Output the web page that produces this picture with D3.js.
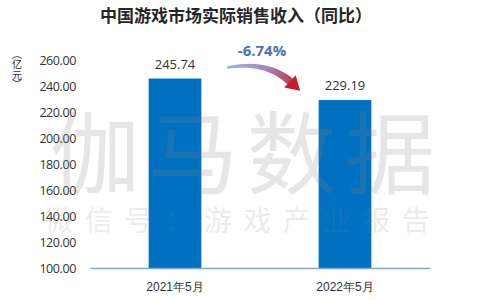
<!DOCTYPE html>
<html>
<head>
<meta charset="utf-8">
<script src="https://cdn.jsdelivr.net/npm/d3@7"></script>
<style>
  body { margin: 0; background: #fff; }
  svg { display: block; font-family: "Noto Sans CJK SC", "Noto Sans", sans-serif; }
</style>
</head>
<body>
<main></main>
<script>
const categories = ["2021年5月", "2022年5月"];
const values = [245.74, 229.19];
const yTicks = [100, 120, 140, 160, 180, 200, 220, 240, 260];
const changeLabel = "-6.74%";
const unitChars = ["︵", "亿", "元", "︶"];

const w = 480, h = 300;

const svg = d3.select("main")
  .append("svg")
  .attr("width", w)
  .attr("height", h)
  .style("background", "#fff");

const xScale = d3.scaleBand()
  .domain(categories)
  .range([90, 430])
  .paddingInner(0.69)
  .paddingOuter(0.345);

const yScale = d3.scaleLinear()
  .domain([100, 260])
  .range([268, 60]);

// title
svg.append("text")
  .attr("x", 236)
  .attr("y", 22)
  .attr("text-anchor", "middle")
  .style("font-size", "17px")
  .style("font-weight", "bold")
  .style("fill", "#262626")
  .text("中国游戏市场实际销售收入（同比）");

// y axis labels (no line)
const yAxis = d3.axisLeft(yScale)
  .tickValues(yTicks)
  .tickFormat(d3.format(".2f"))
  .tickSize(0)
  .tickPadding(0);
const gy = svg.append("g")
  .attr("transform", "translate(76,0)")
  .call(yAxis);
gy.select(".domain").remove();
gy.selectAll("text")
  .style("font-family", "'Open Sans', 'Noto Sans', sans-serif")
  .style("font-size", "12.5px")
  .style("fill", "#333")
  .style("letter-spacing", "-0.4px");

// unit, stacked vertically
const unitY = [53, 63, 74, 83];
svg.selectAll("text.unit")
  .data(unitChars)
  .enter()
  .append("text")
  .attr("class", "unit")
  .attr("x", 17)
  .attr("y", (d, i) => unitY[i])
  .attr("text-anchor", "middle")
  .attr("dominant-baseline", "central")
  .style("font-size", "10px")
  .style("fill", "#333")
  .text(d => d);

// bars
svg.selectAll("rect.bar")
  .data(values)
  .enter()
  .append("rect")
  .attr("class", "bar")
  .attr("x", (d, i) => xScale(categories[i]))
  .attr("y", d => yScale(d))
  .attr("width", xScale.bandwidth())
  .attr("height", d => yScale(100) - yScale(d))
  .attr("fill", "#0070c0");

// value labels
svg.selectAll("text.val")
  .data(values)
  .enter()
  .append("text")
  .attr("class", "val")
  .attr("x", (d, i) => xScale(categories[i]) + xScale.bandwidth() / 2)
  .attr("y", d => yScale(d) - 10)
  .attr("text-anchor", "middle")
  .style("font-family", "'Open Sans', 'Noto Sans', sans-serif")
  .style("font-size", "13px")
  .style("fill", "#333")
  .text(d => d.toFixed(2));

// x axis
const xAxis = d3.axisBottom(xScale).tickSize(0).tickPadding(14);
const gx = svg.append("g")
  .attr("transform", "translate(0," + yScale(100) + ")")
  .call(xAxis);
gx.select(".domain")
  .attr("stroke", "#7faac8")
  .attr("stroke-width", 1.5);
gx.selectAll("text")
  .style("font-size", "12px")
  .style("fill", "#333");

// change arrow: tapered curved shaft + head
const defs = svg.append("defs");
const grad = defs.append("linearGradient")
  .attr("id", "arrowGrad")
  .attr("gradientUnits", "userSpaceOnUse");
grad.append("stop").attr("offset", "0%").attr("stop-color", "#9eb0e2");
grad.append("stop").attr("offset", "50%").attr("stop-color", "#a289b8");
grad.append("stop").attr("offset", "100%").attr("stop-color", "#c81f2c");

const sx = xScale(categories[0]) + xScale.bandwidth() + 26;
const sy = yScale(values[0]) - 11;
const ex = xScale(categories[1]) - 28;
const ey = yScale(values[1]) - 18;
const cx = sx + 40, cy = sy - 7;
grad.attr("x1", sx).attr("y1", sy).attr("x2", ex + 8).attr("y2", ey + 8);

const N = 30, left = [], right = [];
for (let k = 0; k <= N; k++) {
  const t = k / N;
  const px = (1 - t) * (1 - t) * sx + 2 * (1 - t) * t * cx + t * t * ex;
  const py = (1 - t) * (1 - t) * sy + 2 * (1 - t) * t * cy + t * t * ey;
  const dx = 2 * (1 - t) * (cx - sx) + 2 * t * (ex - cx);
  const dy = 2 * (1 - t) * (cy - sy) + 2 * t * (ey - cy);
  const len = Math.hypot(dx, dy);
  const hw = 1.2 + 2.8 * t;
  left.push([px - dy / len * hw, py + dx / len * hw]);
  right.push([px + dy / len * hw, py - dx / len * hw]);
}
const shaft = left.concat(right.reverse());
svg.append("path")
  .attr("d", "M" + shaft.map(p => p.join(",")).join("L") + "Z")
  .attr("fill", "url(#arrowGrad)");

const ang = Math.atan2(ey - cy, ex - cx);
const ux = Math.cos(ang), uy = Math.sin(ang);
const tipX = ex + ux * 13, tipY = ey + uy * 13;
const bx = ex - ux * 1, by = ey - uy * 1;
svg.append("path")
  .attr("d", `M${tipX},${tipY} L${bx - uy * 8.5},${by + ux * 8.5} L${bx + uy * 8.5},${by - ux * 8.5} Z`)
  .attr("fill", "#c81f2c");

svg.append("text")
  .attr("x", 262)
  .attr("y", 56)
  .attr("text-anchor", "middle")
  .style("font-family", "'Open Sans', 'Noto Sans', sans-serif")
  .style("font-size", "15px")
  .style("font-weight", "bold")
  .style("fill", "#4a70b8")
  .text(changeLabel);

// watermark
svg.append("text")
  .attr("x", 50)
  .attr("y", 187)
  .attr("textLength", 385)
  .attr("lengthAdjust", "spacing")
  .style("font-size", "90px")
  .style("fill", "#808080")
  .style("fill-opacity", 0.2)
  .text("伽马数据");

svg.append("text")
  .attr("x", 45)
  .attr("y", 231)
  .attr("textLength", 385)
  .attr("lengthAdjust", "spacing")
  .style("font-size", "28px")
  .style("fill", "#808080")
  .style("fill-opacity", 0.17)
  .text("微信号：游戏产业报告");
</script>
</body>
</html>
